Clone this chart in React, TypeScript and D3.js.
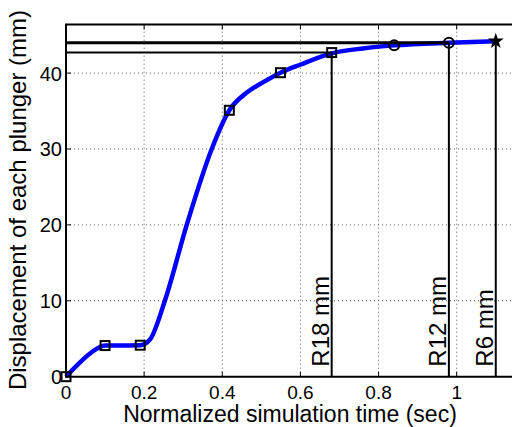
import React from "react";
import * as d3 from "d3";

const curveT = [0, 0.03, 0.06, 0.1, 0.19, 0.215, 0.253, 0.309, 0.373, 0.418, 0.462, 0.505, 0.549, 0.599, 0.68, 0.76, 0.84, 0.98, 1.1];
const curveY = [0, 1.6, 3.0, 4.1, 4.15, 4.9, 10, 20, 30, 35.1, 37.4, 38.8, 40.05, 41.1, 42.6, 43.25, 43.65, 44.0, 44.2];

const squareT = [0, 0.1, 0.19, 0.418, 0.549, 0.68];
const squareY = [0, 4.1, 4.15, 35.1, 40.05, 42.7];
const circleT = [0.84, 0.98];
const circleY = [43.65, 44.0];
const starT = [1.1];
const starY = [44.2];

const refT = [0.68, 0.98, 1.1];
const refY = [42.7, 44.0, 44.2];
const refLabels = ["R18 mm", "R12 mm", "R6 mm"];
const refHoriz = [true, true, false];

const xTicks = [0, 0.2, 0.4, 0.6, 0.8, 1];
const yTicks = [0, 10, 20, 30, 40];

const W = 512;
const H = 427;
const FONT = "'Liberation Sans', Arial, Helvetica, sans-serif";

export default function App() {
  const x = d3.scaleLinear().domain([0, 1.2]).range([66, 66 + 1.2 * 390.7]);
  const y = d3.scaleLinear().domain([0, 46.4]).range([376.7, 24.5]);
  const x0 = x(0);
  const xR = x(1.2);
  const yB = y(0);
  const yT = y(46.4);

  const pts: [number, number][] = curveT.map((t, i) => [t, curveY[i]]);
  const line = d3
    .line<[number, number]>()
    .x((d) => x(d[0]))
    .y((d) => y(d[1]))
    .curve(d3.curveMonotoneX);

  const star = d3.symbol().type(d3.symbolStar).size(80)();

  return (
    <svg width={W} height={H} style={{ position: "absolute", left: 0, top: 0, background: "#fff" }}>
      <rect x={0} y={0} width={W} height={H} fill="#fff" />
      {/* grid */}
      {xTicks.filter((t) => t > 0).map((t) => (
        <line key={"gx" + t} x1={x(t)} x2={x(t)} y1={yB} y2={yT} stroke="#555" strokeWidth={1} strokeDasharray="1,3" />
      ))}
      {yTicks.filter((t) => t > 0).map((t) => (
        <line key={"gy" + t} x1={x0} x2={xR} y1={y(t)} y2={y(t)} stroke="#555" strokeWidth={1} strokeDasharray="1,3" />
      ))}
      {/* curve */}
      <path d={line(pts) || ""} fill="none" stroke="#0000ff" strokeWidth={4.5} strokeLinejoin="round" />
      {/* reference lines */}
      {refT.map((t, i) => (
        <g key={"ref" + i}>
          <line x1={x(t)} x2={x(t)} y1={yB} y2={y(refY[i])} stroke="#000" strokeWidth={2} />
          {refHoriz[i] && (
            <line x1={x0} x2={x(t)} y1={y(refY[i])} y2={y(refY[i])} stroke="#000" strokeWidth={i === 1 ? 3 : 2} />
          )}
          <text
            transform={`translate(${x(t) - 3},${yB - 10}) rotate(-90)`}
            fontFamily={FONT}
            fontSize={24}
            fill="#000"
          >
            {refLabels[i]}
          </text>
        </g>
      ))}
      {/* markers */}
      {squareT.map((t, i) => (
        <rect key={"sq" + i} x={x(t) - 4.5} y={y(squareY[i]) - 4.5} width={9} height={9} fill="none" stroke="#000" strokeWidth={2} />
      ))}
      {circleT.map((t, i) => (
        <circle key={"ci" + i} cx={x(t)} cy={y(circleY[i])} r={5} fill="none" stroke="#000" strokeWidth={2} />
      ))}
      {starT.map((t, i) => (
        <path key={"st" + i} d={star || ""} transform={`translate(${x(t)},${y(starY[i])})`} fill="#000" />
      ))}
      {/* axes */}
      <line x1={x0} x2={x0} y1={yT} y2={yB} stroke="#000" strokeWidth={2} />
      <line x1={x0 - 1} x2={xR} y1={yB} y2={yB} stroke="#000" strokeWidth={2} />
      <line x1={x0 - 1} x2={xR} y1={yT} y2={yT} stroke="#000" strokeWidth={2} />
      {xTicks.map((t) => (
        <g key={"xt" + t}>
          <line x1={x(t)} x2={x(t)} y1={yB} y2={yB - 5} stroke="#000" strokeWidth={1} />
          <line x1={x(t)} x2={x(t)} y1={yT} y2={yT + 5} stroke="#000" strokeWidth={1} />
          <text x={x(t)} y={399} textAnchor="middle" fontFamily={FONT} fontSize={19} fill="#000">
            {d3.format("")(t)}
          </text>
        </g>
      ))}
      {yTicks.map((t) => (
        <g key={"yt" + t}>
          <line x1={x0} x2={x0 + 5} y1={y(t)} y2={y(t)} stroke="#000" strokeWidth={1} />
          <text x={62} y={y(t) + 7.5} textAnchor="end" fontFamily={FONT} fontSize={20} fill="#000">
            {t}
          </text>
        </g>
      ))}
      {/* axis labels */}
      <text x={290} y={422} textAnchor="middle" fontFamily={FONT} fontSize={23} fill="#000">
        Normalized simulation time (sec)
      </text>
      <text transform={`translate(26,200) rotate(-90)`} textAnchor="middle" fontFamily={FONT} fontSize={24} fill="#000">
        Displacement of each plunger (mm)
      </text>
    </svg>
  );
}
